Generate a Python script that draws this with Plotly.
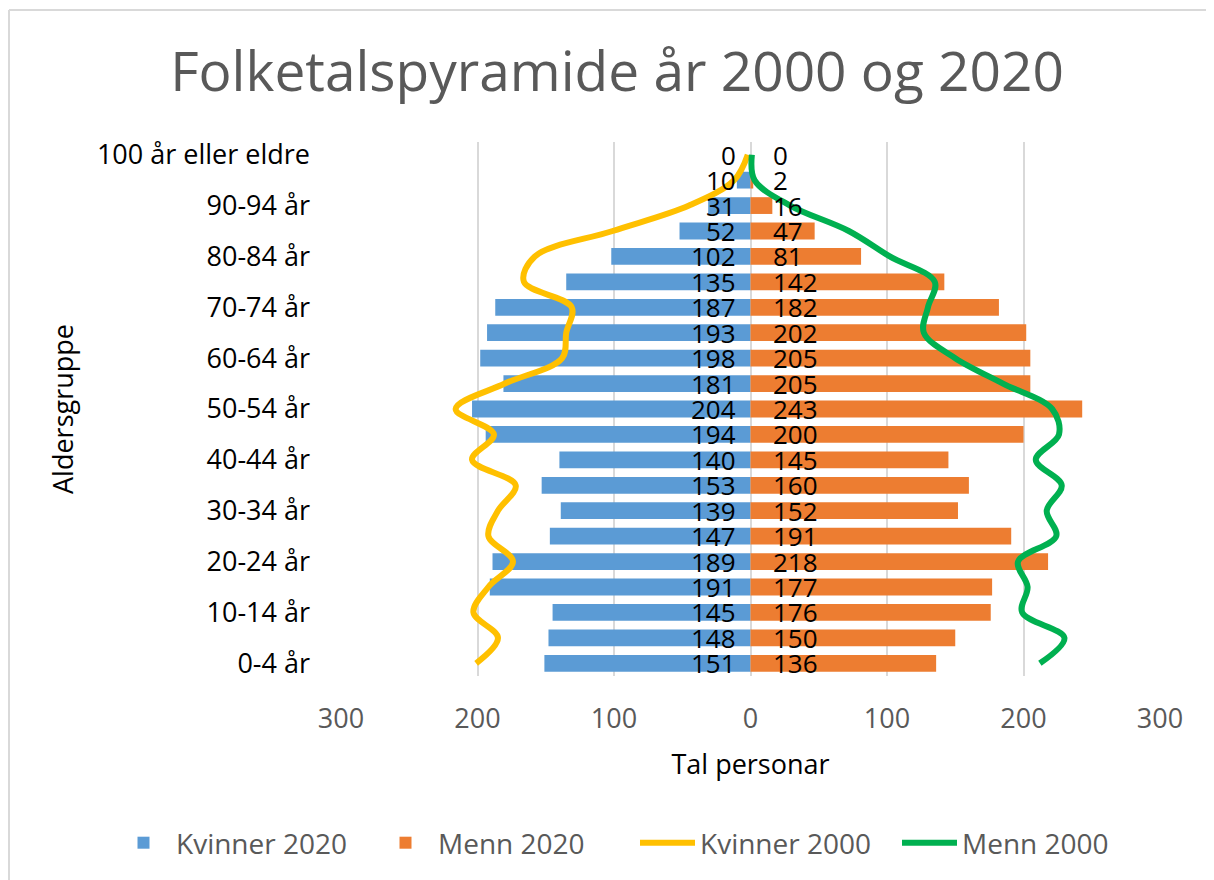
import plotly.graph_objects as go

age_groups = ["0-4 år", "5-9 år", "10-14 år", "15-19 år", "20-24 år", "25-29 år",
              "30-34 år", "35-39 år", "40-44 år", "45-49 år", "50-54 år", "55-59 år",
              "60-64 år", "65-69 år", "70-74 år", "75-79 år", "80-84 år", "85-89 år",
              "90-94 år", "95-99 år", "100 år eller eldre"]
kvinner_2020 = [151, 148, 145, 191, 189, 147, 139, 153, 140, 194, 204, 181, 198, 193, 187, 135, 102, 52, 31, 10, 0]
menn_2020 = [136, 150, 176, 177, 218, 191, 152, 160, 145, 200, 243, 205, 205, 202, 182, 142, 81, 47, 16, 2, 0]
kvinner_2000 = [201, 185, 203, 192, 174, 192, 185, 172, 204, 188, 216, 180, 138, 135, 131, 166, 158, 101, 45, 12, 2]
menn_2000 = [212, 230, 199, 203, 196, 224, 217, 228, 209, 226, 221, 185, 150, 127, 130, 135, 102, 72, 29, 3, 1]
x_ticks = [-300, -200, -100, 0, 100, 200, 300]
x_tick_text = ["300", "200", "100", "0", "100", "200", "300"]

FONT = "Open Sans"
GRAY = "#595959"

fig = go.Figure()
fig.add_trace(go.Bar(y=age_groups, x=[-v for v in kvinner_2020], orientation="h",
                     name="Kvinner 2020", marker=dict(color="#5B9BD5", line=dict(width=0)),
                     width=0.66, hoverinfo="skip"))
fig.add_trace(go.Bar(y=age_groups, x=menn_2020, orientation="h",
                     name="Menn 2020", marker=dict(color="#ED7D31", line=dict(width=0)),
                     width=0.66, hoverinfo="skip"))
fig.add_trace(go.Scatter(y=age_groups, x=[-v for v in kvinner_2000], mode="lines",
                         name="Kvinner 2000",
                         line=dict(color="#FFC000", width=6, shape="spline", smoothing=1.0),
                         hoverinfo="skip"))
fig.add_trace(go.Scatter(y=age_groups, x=menn_2000, mode="lines",
                         name="Menn 2000",
                         line=dict(color="#00B050", width=6, shape="spline", smoothing=1.0),
                         hoverinfo="skip"))

annotations = []
for g, v in zip(age_groups, kvinner_2020):
    annotations.append(dict(x=0, y=g, xref="x", yref="y", text=str(v), showarrow=False,
                            xanchor="right", yanchor="middle", xshift=-13, height=24,
                            font=dict(family=FONT, size=26, color="#000000")))
for g, v in zip(age_groups, menn_2020):
    annotations.append(dict(x=0, y=g, xref="x", yref="y", text=str(v), showarrow=False,
                            xanchor="left", yanchor="middle", xshift=20, height=24,
                            font=dict(family=FONT, size=26, color="#000000")))

# page is offset by the 8px body margin
W, H = 1206, 872
L, R, T, B = 333, 1152, 134, 668
pw, ph = R - L, B - T


def px_x(px):
    return (px - L) / pw


def px_y(py):
    return (B - py) / ph


shapes = [
    dict(type="line", xref="paper", yref="paper", x0=px_x(1), x1=px_x(W), y0=px_y(2), y1=px_y(2),
         line=dict(color="#D9D9D9", width=2)),
    dict(type="line", xref="paper", yref="paper", x0=px_x(1), x1=px_x(1), y0=px_y(2), y1=px_y(H),
         line=dict(color="#D9D9D9", width=2)),
]

fig.update_layout(
    width=W, height=H,
    margin=dict(l=L, r=W - R, t=T, b=H - B),
    paper_bgcolor="white", plot_bgcolor="white",
    barmode="overlay",
    font=dict(family=FONT, color=GRAY),
    title=dict(text="Folketalspyramide år 2000 og 2020", x=609 / W, xref="container",
               y=1 - 64 / H, yref="container", xanchor="center", yanchor="middle",
               font=dict(family=FONT, size=55, color=GRAY)),
    xaxis=dict(range=[-300, 300], tickvals=x_ticks, ticktext=x_tick_text,
               showgrid=True, gridcolor="#D9D9D9", gridwidth=1.5, zeroline=True,
               zerolinecolor="#D9D9D9", zerolinewidth=1.5, showline=False,
               ticks="", ticklabelstandoff=24,
               tickfont=dict(family=FONT, size=27, color=GRAY),
               title=dict(text="Tal personar", font=dict(family=FONT, size=27, color="#000000"),
                          standoff=20)),
    yaxis=dict(type="category", categoryorder="array", categoryarray=age_groups,
               range=[-0.5, len(age_groups) - 0.5],
               tickvals=age_groups[::2], ticktext=age_groups[::2],
               showgrid=False, zeroline=False, showline=False, ticks="",
               ticklabelstandoff=30,
               tickfont=dict(family=FONT, size=27, color="#000000"),
               title=dict(text="Aldersgruppe", font=dict(family=FONT, size=27, color="#000000"),
                          standoff=15)),
    legend=dict(orientation="h", x=px_x(103), xref="paper", xanchor="left",
                y=px_y(835), yref="paper", yanchor="middle",
                font=dict(family=FONT, size=28, color=GRAY), itemwidth=55,
                entrywidth=192, entrywidthmode="pixels",
                traceorder="normal"),
    annotations=annotations,
    shapes=shapes,
    showlegend=True,
)

fig.write_html("out.html")
